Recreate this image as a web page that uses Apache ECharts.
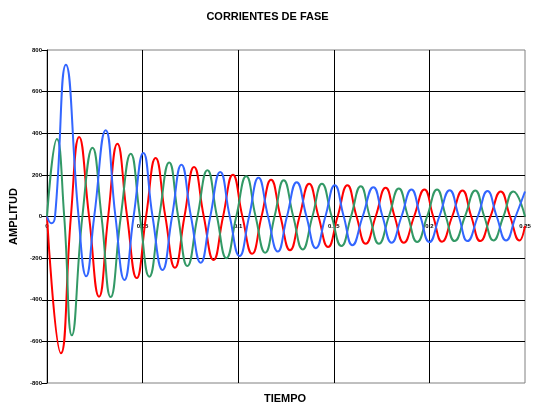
<!DOCTYPE html>
<html>
<head>
<meta charset="utf-8">
<script src="https://cdn.jsdelivr.net/npm/echarts@6/dist/echarts.min.js"></script>
<style>
html,body{margin:0;padding:0;background:#fff;}
#c{width:535px;height:413px;}
</style>
</head>
<body>
<div id="c"></div>
<script>
// Phase currents: [time (s), amplitude]
var faseRoja = [
  [0,0],[0.0073,-657],[0.0125,0],[0.0168,382],[0.0220,0],[0.0272,-385],[0.0320,0],[0.0368,349],
  [0.0419,0],[0.0469,-296],[0.0518,0],[0.0568,281],[0.0619,0],[0.0669,-246],[0.0719,0],[0.0769,238],
  [0.0820,0],[0.0871,-209],[0.0921,0],[0.0972,201],[0.1022,0],[0.1073,-179],[0.1122,0],[0.1172,177],
  [0.1221,0],[0.1271,-162],[0.1321,0],[0.1371,157],[0.1420,0],[0.1470,-147],[0.1520,0],[0.1571,150],
  [0.1619,0],[0.1667,-131],[0.1719,0],[0.1771,138],[0.1818,0],[0.1866,-126],[0.1920,0],[0.1974,130],
  [0.2020,0],[0.2066,-121],[0.2119,0],[0.2173,125],[0.2219,0],[0.2266,-118],[0.2319,0],[0.2373,120],
  [0.2422,0],[0.2471,-115],[0.25,-45]
];
var faseVerde = [
  [0,0],[0.0052,372],[0.0090,0],[0.0130,-571],[0.0185,0],[0.0238,330],[0.0285,0],[0.0333,-387],
  [0.0386,0],[0.0438,302],[0.0486,0],[0.0535,-289],[0.0587,0],[0.0639,260],[0.0686,0],[0.0734,-238],
  [0.0787,0],[0.0839,222],[0.0889,0],[0.0938,-200],[0.0990,0],[0.1042,193],[0.1091,0],[0.1141,-174],
  [0.1190,0],[0.1238,174],[0.1288,0],[0.1337,-158],[0.1388,0],[0.1438,157],[0.1489,0],[0.1540,-142],
  [0.1590,0],[0.1641,145],[0.1688,0],[0.1736,-131],[0.1788,0],[0.1840,134],[0.1888,0],[0.1936,-123],
  [0.1988,0],[0.2040,130],[0.2086,0],[0.2132,-118],[0.2186,0],[0.2240,125],[0.2287,0],[0.2335,-115],
  [0.2387,0],[0.2439,120],[0.25,0]
];
var faseAzul = [
  [0,0],[0.0023,-33],[0.0042,0],[0.0099,729],[0.0165,0],[0.0205,-287],[0.0247,0],[0.0307,415],
  [0.0358,0],[0.0405,-305],[0.0453,0],[0.0504,305],[0.0552,0],[0.0604,-257],[0.0654,0],[0.0703,249],
  [0.0753,0],[0.0804,-222],[0.0854,0],[0.0906,214],[0.0956,0],[0.1007,-190],[0.1057,0],[0.1106,186],
  [0.1156,0],[0.1207,-168],[0.1255,0],[0.1306,165],[0.1357,0],[0.1406,-152],[0.1456,0],[0.1505,150],
  [0.1552,0],[0.1597,-138],[0.1651,0],[0.1707,141],[0.1755,0],[0.1802,-126],[0.1854,0],[0.1906,130],
  [0.1953,0],[0.2000,-123],[0.2052,0],[0.2106,126],[0.2154,0],[0.2199,-118],[0.2253,0],[0.2304,122],
  [0.2352,0],[0.2401,-115],[0.2451,0],[0.25,120]
];
var xTicks = {min: 0, max: 0.25, interval: 0.05};
var yTicks = {min: -800, max: 800, interval: 200};
var titulo = 'CORRIENTES DE FASE';
var nombreX = 'TIEMPO';
var nombreY = 'AMPLITUD';

var chart = echarts.init(document.getElementById('c'), null, {renderer: 'canvas'});
var FONT = '"Liberation Sans", Arial, sans-serif';
function serie(name, data, color) {
  return {
    name: name, type: 'line', data: data, smooth: 0.5,
    showSymbol: false, symbol: 'none',
    lineStyle: {color: color, width: 2}, itemStyle: {color: color}
  };
}
chart.setOption({
  animation: false,
  backgroundColor: '#ffffff',
  title: {
    text: titulo, left: 'center', top: 6,
    textStyle: {fontFamily: FONT, fontSize: 11, fontWeight: 'bold', color: '#000'}
  },
  grid: {left: 45, right: 10, top: 50, bottom: 30, show: true, borderColor: '#808080', borderWidth: 1, backgroundColor: 'transparent'},
  xAxis: {
    type: 'value', min: xTicks.min, max: xTicks.max, interval: xTicks.interval,
    offset: -166.5,
    axisLine: {show: true, onZero: false, lineStyle: {color: '#000', width: 1}},
    axisTick: {show: false},
    axisLabel: {fontFamily: FONT, fontSize: 6, fontWeight: 'bold', color: '#000', margin: 7},
    splitLine: {show: true, showMinLine: false, showMaxLine: false, lineStyle: {color: '#000', width: 1}}
  },
  yAxis: {
    type: 'value', min: yTicks.min, max: yTicks.max, interval: yTicks.interval,
    name: nombreY, nameLocation: 'middle', nameGap: 28, nameRotate: 90,
    nameTextStyle: {fontFamily: FONT, fontSize: 11, fontWeight: 'bold', color: '#000'},
    axisLine: {show: true, onZero: false, lineStyle: {color: '#000', width: 1}},
    axisTick: {show: true, length: 5, lineStyle: {color: '#000'}},
    axisLabel: {fontFamily: FONT, fontSize: 6, fontWeight: 'bold', color: '#000', margin: 5},
    splitLine: {show: true, showMinLine: false, showMaxLine: false, lineStyle: {color: '#000', width: 1}}
  },
  graphic: [{
    type: 'text', left: 264, top: 393,
    style: {text: nombreX, font: 'bold 11px ' + FONT, fill: '#000'}
  }],
  series: [
    serie('Fase R', faseRoja, '#ff0000'),
    serie('Fase S', faseVerde, '#339966'),
    serie('Fase T', faseAzul, '#3366ff')
  ]
});
</script>
</body>
</html>
